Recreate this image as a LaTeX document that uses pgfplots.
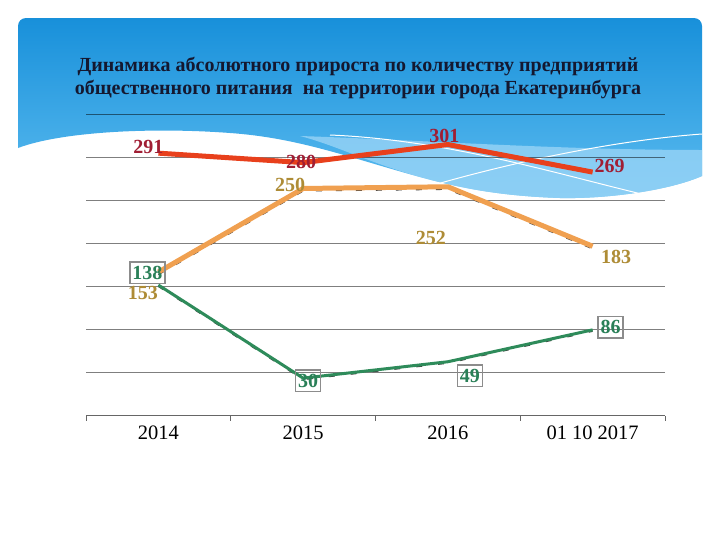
\documentclass[border=0pt]{standalone}
\usepackage{pgfplots}
\pgfplotsset{compat=1.18}
\usepackage{fontspec}
\setmainfont{Liberation Serif}
\definecolor{bgtop}{HTML}{1890DA}
\definecolor{bgbot}{HTML}{5CBCF0}
\definecolor{bglight}{HTML}{9DD6F7}
\definecolor{titlec}{HTML}{141830}
\definecolor{redline}{HTML}{E8401C}
\definecolor{orline}{HTML}{F0A050}
\definecolor{grline}{HTML}{2E8B5A}
\definecolor{redlbl}{HTML}{A01E34}
\definecolor{orlbl}{HTML}{AE8C36}
\definecolor{grlbl}{HTML}{2A8058}
\definecolor{boxgray}{HTML}{8C8C8C}
\tikzset{
  lbl/.style={font=\bfseries\fontsize{20bp}{20bp}\selectfont, inner sep=0pt},
  gbox/.style={draw=boxgray, line width=1.5bp, inner xsep=2.5bp, inner ysep=4bp,
    text=grlbl, font=\bfseries\fontsize{20bp}{20bp}\selectfont},
}
\begin{document}
\begin{tikzpicture}
\path[use as bounding box] (0,0) rectangle (720bp,-540bp);
\fill[white] (0,0) rectangle (720bp,-540bp);
% blue header with wave
\shade[top color=bgtop, bottom color=bgbot]
  (18bp,-148bp) -- (18bp,-26bp) arc[start angle=180,end angle=90,radius=8bp]
  -- (694bp,-18bp) arc[start angle=90,end angle=0,radius=8bp]
  -- (702bp,-176bp) .. controls (670bp,-190bp) and (610bp,-199bp) .. (560bp,-198bp)
  .. controls (500bp,-196bp) and (460bp,-188bp) .. (420bp,-177bp)
  .. controls (350bp,-158bp) and (300bp,-138bp) .. (230bp,-133bp)
  .. controls (150bp,-127bp) and (60bp,-132bp) .. (18bp,-148bp) -- cycle;
\fill[bglight, opacity=0.75]
  (300bp,-136bp) .. controls (420bp,-140bp) and (560bp,-150bp) .. (702bp,-150bp)
  -- (702bp,-176bp) .. controls (670bp,-190bp) and (610bp,-199bp) .. (560bp,-198bp)
  .. controls (500bp,-196bp) and (460bp,-188bp) .. (420bp,-177bp)
  .. controls (370bp,-163bp) and (335bp,-145bp) .. (300bp,-136bp) -- cycle;
\draw[white, line width=1bp] (330bp,-135bp) .. controls (450bp,-140bp) and (560bp,-175bp) .. (650bp,-196bp);
\draw[white, line width=1bp] (430bp,-186bp) .. controls (520bp,-160bp) and (620bp,-140bp) .. (702bp,-134bp);
% title
\node[align=center, text=titlec, font=\bfseries\fontsize{20bp}{23bp}\selectfont] at (358bp,-78bp)
  {Динамика абсолютного прироста по количеству предприятий\\общественного питания\ \ на территории города Екатеринбурга};
\begin{axis}[
  at={(86bp,-415.7bp)}, anchor=south west, scale only axis,
  width=579bp, height=301.7bp,
  xmin=-0.5, xmax=3.5, ymin=-13.6, ymax=336.4,
  clip=false,
  axis x line*=bottom, axis y line*=left,
  y axis line style={draw=none},
  x axis line style={draw=black!60, line width=0.9bp},
  ytick={36.4,86.4,136.4,186.4,236.4,286.4,336.4},
  yticklabels={}, ytick style={draw=none},
  ymajorgrids, grid style={draw=black, opacity=0.5, line width=0.9bp},
  xtick={0,1,2,3}, xticklabels={2014,2015,2016,01 10 2017},
  major x tick style={draw=none},
  minor xtick={-0.5,0.5,1.5,2.5,3.5},
  minor tick length=5bp,
  minor x tick style={draw=black!60, line width=0.9bp},
  tick align=outside, xtick pos=bottom,
  xticklabel style={font=\fontsize{20.5bp}{22bp}\selectfont, text=black, yshift=-2bp},
]
% shadows
\addplot[black!75, line width=1.3bp, dash pattern=on 6bp off 14bp, yshift=-2.5bp, forget plot]
  coordinates {(0,153)(1,250)(2,252)(3,183)};
\addplot[black!75, line width=1.1bp, dash pattern=on 6bp off 16bp, yshift=-1.5bp, forget plot]
  coordinates {(0,138)(1,30)(2,49)(3,86)};
% series
\addplot[grline, line width=3bp] coordinates {(0,138)(1,30)(2,49)(3,86)};
\addplot[orline, line width=5bp] coordinates {(0,153)(1,250)(2,252)(3,183)};
\addplot[redline, line width=5bp] coordinates {(0,291)(1,280)(2,301)(3,269)};
% labels: red
\node[lbl, text=redlbl, xshift=-10bp, yshift=6bp] at (axis cs:0,291) {291};
\node[lbl, text=redlbl, xshift=-2bp, yshift=1bp] at (axis cs:1,280) {280};
\node[lbl, text=redlbl, xshift=-3.5bp, yshift=9bp] at (axis cs:2,301) {301};
\node[lbl, text=redlbl, xshift=17bp, yshift=6.5bp] at (axis cs:3,269) {269};
% labels: orange
\node[lbl, text=orlbl, xshift=-15.5bp, yshift=-21bp] at (axis cs:0,153) {153};
\node[lbl, text=orlbl, xshift=-13bp, yshift=4bp] at (axis cs:1,250) {250};
\node[lbl, text=orlbl, xshift=-17bp, yshift=-51.5bp] at (axis cs:2,252) {252};
\node[lbl, text=orlbl, xshift=23.5bp, yshift=-11bp] at (axis cs:3,183) {183};
% labels: green
\node[gbox, xshift=-11bp, yshift=12.3bp] at (axis cs:0,138) {138};
\node[gbox, xshift=5bp, yshift=-2.6bp] at (axis cs:1,30) {30};
\node[gbox, xshift=22bp, yshift=-14.2bp] at (axis cs:2,49) {49};
\node[gbox, xshift=18bp, yshift=2.6bp] at (axis cs:3,86) {86};
\end{axis}
\end{tikzpicture}
\end{document}
